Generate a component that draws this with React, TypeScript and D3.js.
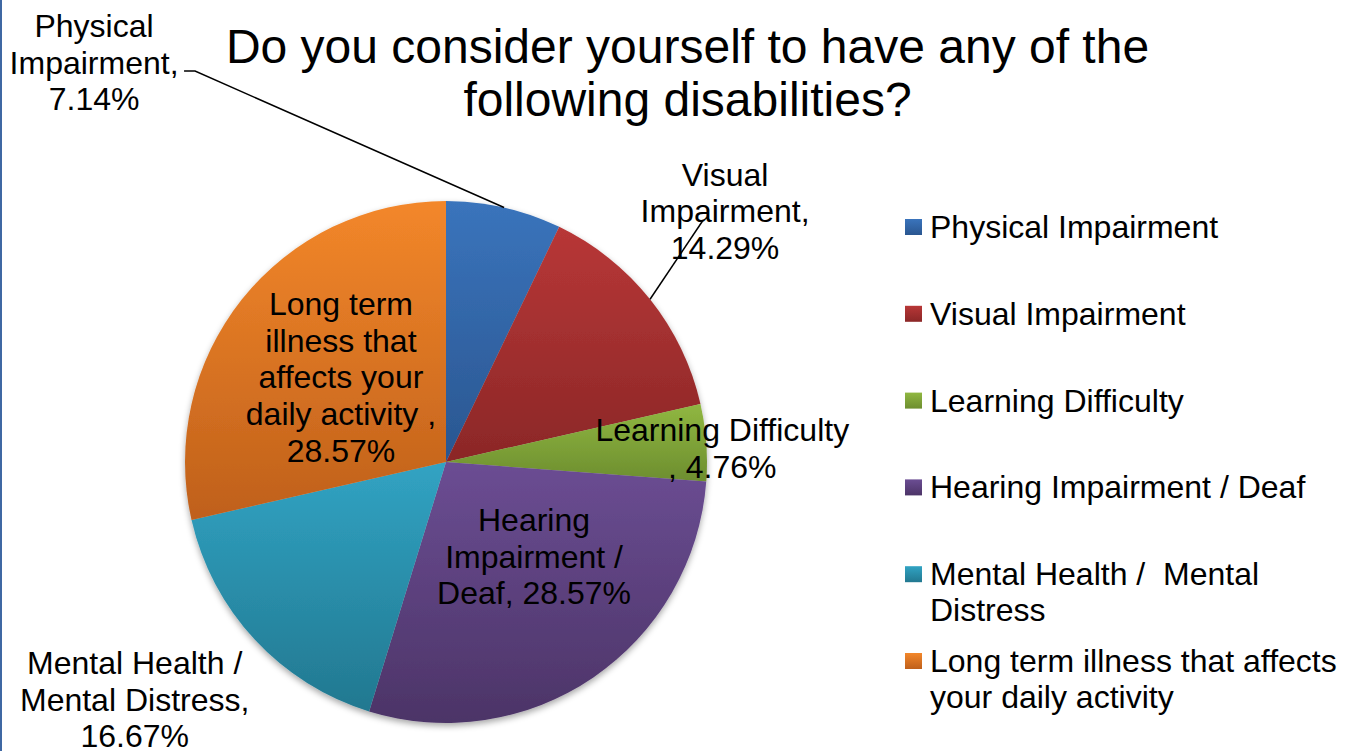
import * as d3 from 'd3';

const categories = [
  'Physical Impairment',
  'Visual Impairment',
  'Learning Difficulty',
  'Hearing Impairment / Deaf',
  'Mental Health /  Mental Distress',
  'Long term illness that affects your daily activity',
];
const values = [7.14, 14.29, 4.76, 28.57, 16.67, 28.57];
const colorsTop = ['#3a74bc', '#b83737', '#90b741', '#6b4d93', '#31a3c3', '#f3872a'];
const colorsBottom = ['#2a5690', '#8b2727', '#6d8e2f', '#4c3467', '#227890', '#bf601b'];

const pct = (i: number) => `${values[i].toFixed(2)}%`;
const labelLines = [
  ['Physical', 'Impairment,', pct(0)],
  ['Visual', 'Impairment,', pct(1)],
  ['Learning Difficulty', `, ${pct(2)}`],
  ['Hearing', 'Impairment /', `Deaf, ${pct(3)}`],
  ['Mental Health /', 'Mental Distress,', pct(4)],
  ['Long term', 'illness that', 'affects your', 'daily activity ,', pct(5)],
];
const legendLines = [
  ['Physical Impairment'],
  ['Visual Impairment'],
  ['Learning Difficulty'],
  ['Hearing Impairment / Deaf'],
  ['Mental Health /  Mental', 'Distress'],
  ['Long term illness that affects', 'your daily activity'],
];
const titleLines = ['Do you consider yourself to have any of the', 'following disabilities?'];

// label placement, offset from the slice's outer edge point (manually dragged in the original)
const labelOffset: [number, number][] = [
  [-410, -145],
  [75, -88],
  [16, 6],
  [-59, -121],
  [-120, 60],
  [99, 78],
];

const W = 1350;
const H = 751;
const cx = 446;
const cy = 462;
const R = 261;
const lh = 36.7;
const font = '"Liberation Sans", Arial, sans-serif';

export default function App() {
  const pie = d3
    .pie<number>()
    .sort(null)
    .value((d) => d);
  const arcs = pie(values);
  const arc = d3.arc<d3.PieArcDatum<number>>().innerRadius(0).outerRadius(R);

  const edge = (a: d3.PieArcDatum<number>): [number, number] => {
    const m = (a.startAngle + a.endAngle) / 2;
    return [cx + R * Math.sin(m), cy - R * Math.cos(m)];
  };

  const legendY = d3.scaleLinear().domain([0, 1]).range([227, 227 + 86.8]);

  return (
    <div style={{ position: 'absolute', left: 0, top: 0 }}>
      <svg width={W} height={H} style={{ display: 'block', background: '#fff' }}>
        <defs>
          {arcs.map((_, i) => (
            <linearGradient key={i} id={`g${i}`} x1="0" y1="0" x2="0" y2="1">
              <stop offset="0" stopColor={colorsTop[i]} />
              <stop offset="1" stopColor={colorsBottom[i]} />
            </linearGradient>
          ))}
          <filter id="shadow" x="-10%" y="-10%" width="120%" height="125%">
            <feDropShadow dx="0" dy="3" stdDeviation="3" floodColor="#000" floodOpacity="0.35" />
          </filter>
        </defs>

        <rect x={0} y={0} width={2} height={H} fill="#3f68a3" />

        <g fontFamily={font} fill="#000" textAnchor="middle" fontSize={48}>
          {titleLines.map((t, i) => (
            <text key={i} x={687.5} y={63 + i * 53}>
              {t}
            </text>
          ))}
        </g>

        <g filter="url(#shadow)" transform={`translate(${cx},${cy})`}>
          {arcs.map((a, i) => (
            <path key={i} d={arc(a) || ''} fill={`url(#g${i})`} />
          ))}
        </g>

        {/* leader lines */}
        {arcs.map((a, i) => {
          const [ex, ey] = edge(a);
          const lx = ex + labelOffset[i][0];
          const ly = ey + labelOffset[i][1];
          if (i === 0) {
            return (
              <polyline
                key={i}
                points={`${ex},${ey} ${lx + 101},${ly + 8.5} ${lx + 90},${ly + 8.5}`}
                fill="none"
                stroke="#000"
                strokeWidth={1.5}
              />
            );
          }
          if (i === 1) {
            return <line key={i} x1={ex} y1={ey} x2={lx - 22} y2={ly + 9} stroke="#000" strokeWidth={1.5} />;
          }
          return null;
        })}

        <g fontFamily={font} fontSize={32} fill="#000" textAnchor="middle">
          {arcs.map((a, i) => {
            const [ex, ey] = edge(a);
            const lx = ex + labelOffset[i][0];
            const ly = ey + labelOffset[i][1];
            const lines = labelLines[i];
            const y0 = ly - ((lines.length - 1) / 2) * lh + 11;
            return (
              <text key={i} x={lx} y={y0}>
                {lines.map((l, j) => (
                  <tspan key={j} x={lx} y={y0 + j * lh}>
                    {l}
                  </tspan>
                ))}
              </text>
            );
          })}
        </g>

        <g fontFamily={font} fontSize={32} fill="#000">
          {categories.map((c, i) => {
            const y = legendY(i);
            return (
              <g key={c}>
                <rect x={905} y={y - 8} width={17} height={16} fill={`url(#g${i})`} />
                <text x={930} y={y + 11} style={{ whiteSpace: 'pre' }}>
                  {legendLines[i].map((l, j) => (
                    <tspan key={j} x={930} y={y + 11 + j * 35.5}>
                      {l}
                    </tspan>
                  ))}
                </text>
              </g>
            );
          })}
        </g>
      </svg>
    </div>
  );
}
